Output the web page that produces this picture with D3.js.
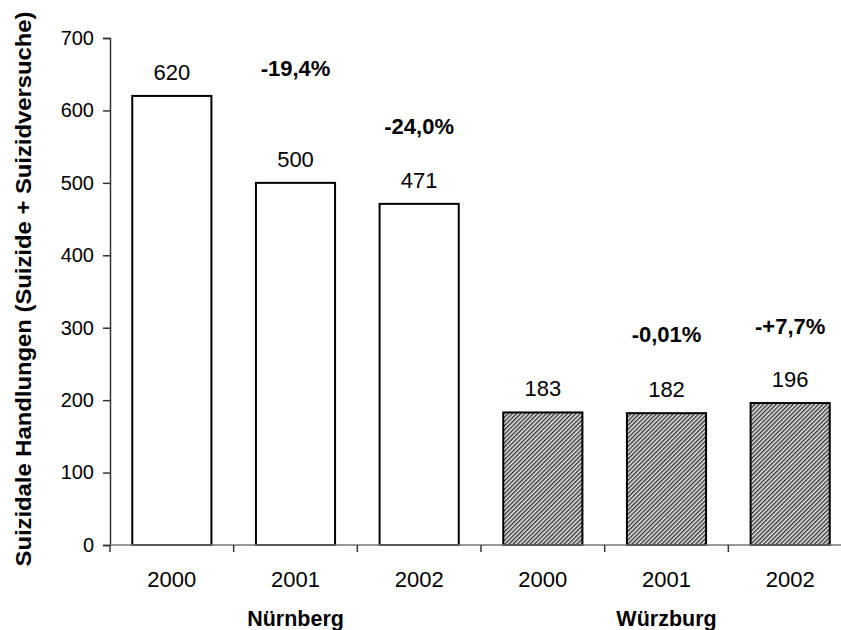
<!DOCTYPE html>
<html>
<head>
<meta charset="utf-8">
<script src="https://cdn.jsdelivr.net/npm/d3@7"></script>
<style>
  body { margin: 0; background: #fff; }
  svg { font-family: "Liberation Sans", Arial, sans-serif; }
</style>
</head>
<body>
<svg id="chart" width="841" height="630"></svg>
<script>
// Suicidal acts per year and city
const years = ["2000", "2001", "2002", "2000", "2001", "2002"];
const cities = ["Nürnberg", "Nürnberg", "Nürnberg", "Würzburg", "Würzburg", "Würzburg"];
const values = [620, 500, 471, 183, 182, 196];
const changes = ["", "-19,4%", "-24,0%", "", "-0,01%", "-+7,7%"];
const changeLevels = [null, 647, 567, null, 280, 291];
const yTicks = [0, 100, 200, 300, 400, 500, 600, 700];
const groups = ["Nürnberg", "Würzburg"];

const svg = d3.select("#chart");
const x0 = 110, x1 = 852, yBase = 545, yTop = 38;

const x = d3.scaleBand().domain(d3.range(values.length)).range([x0, x1]).paddingInner(0.36).paddingOuter(0.18);
const xc = d3.scaleBand().domain(d3.range(values.length)).range([x0, x1]);
const y = d3.scaleLinear().domain([0, 700]).range([yBase, yTop]);

// hatch pattern for the second city
const defs = svg.append("defs");
const pat = defs.append("pattern").attr("id", "hatch").attr("patternUnits", "userSpaceOnUse")
  .attr("width", 3).attr("height", 3).attr("patternTransform", "rotate(45)");
pat.append("rect").attr("width", 3).attr("height", 3).attr("fill", "#e8e8e8");
pat.append("rect").attr("width", 1.4).attr("height", 3).attr("fill", "#333");

// bars
svg.append("g").selectAll("rect").data(values).join("rect")
  .attr("x", (d, i) => x(i))
  .attr("y", d => y(d))
  .attr("width", x.bandwidth())
  .attr("height", d => yBase - y(d))
  .attr("fill", (d, i) => cities[i] === "Würzburg" ? "url(#hatch)" : "#fff")
  .attr("stroke", "#000")
  .attr("stroke-width", 2);

// y axis
const yAxis = svg.append("g").attr("transform", `translate(${x0},0)`)
  .call(d3.axisLeft(y).tickValues(yTicks).tickSize(7).tickPadding(9));
yAxis.select(".domain").attr("stroke", "#333").attr("stroke-width", 1.5);
yAxis.selectAll(".tick line").attr("stroke", "#333").attr("stroke-width", 1.5);
yAxis.selectAll(".tick text").attr("font-size", 20).attr("fill", "#000")
  .attr("font-family", "Liberation Sans, Arial, sans-serif");

// x axis line with ticks between categories
svg.append("line").attr("x1", x0).attr("x2", x1).attr("y1", yBase).attr("y2", yBase)
  .attr("stroke", "#777").attr("stroke-width", 1.5);
svg.append("g").selectAll("line").data(d3.range(values.length + 1)).join("line")
  .attr("x1", i => x0 + i * xc.bandwidth()).attr("x2", i => x0 + i * xc.bandwidth())
  .attr("y1", yBase).attr("y2", yBase + 7)
  .attr("stroke", "#333").attr("stroke-width", 1.5);

// year labels
svg.append("g").selectAll("text").data(years).join("text")
  .attr("x", (d, i) => xc(i) + xc.bandwidth() / 2)
  .attr("y", 587)
  .attr("text-anchor", "middle").attr("font-size", 22).text(d => d);

// city labels
groups.forEach(g => {
  const idx = cities.indexOf(g) + 1;
  svg.append("text")
    .attr("x", xc(idx) + xc.bandwidth() / 2).attr("y", 626)
    .attr("text-anchor", "middle").attr("font-size", 21.5).attr("font-weight", "bold").text(g);
});

// value labels
svg.append("g").selectAll("text").data(values).join("text")
  .attr("x", (d, i) => x(i) + x.bandwidth() / 2)
  .attr("y", d => y(d) - 16)
  .attr("text-anchor", "middle").attr("font-size", 22).text(d => d);

// change labels
svg.append("g").selectAll("text").data(changes).join("text")
  .attr("x", (d, i) => x(i) + x.bandwidth() / 2)
  .attr("y", (d, i) => changeLevels[i] == null ? 0 : y(changeLevels[i]))
  .attr("text-anchor", "middle").attr("font-size", 22).attr("font-weight", "bold")
  .text(d => d);

// y axis title
svg.append("text")
  .attr("transform", "translate(31,289) rotate(-90)")
  .attr("text-anchor", "middle").attr("font-size", 22.5).attr("font-weight", "bold")
  .attr("textLength", 555).attr("lengthAdjust", "spacingAndGlyphs")
  .text("Suizidale Handlungen (Suizide + Suizidversuche)");
</script>
</body>
</html>
